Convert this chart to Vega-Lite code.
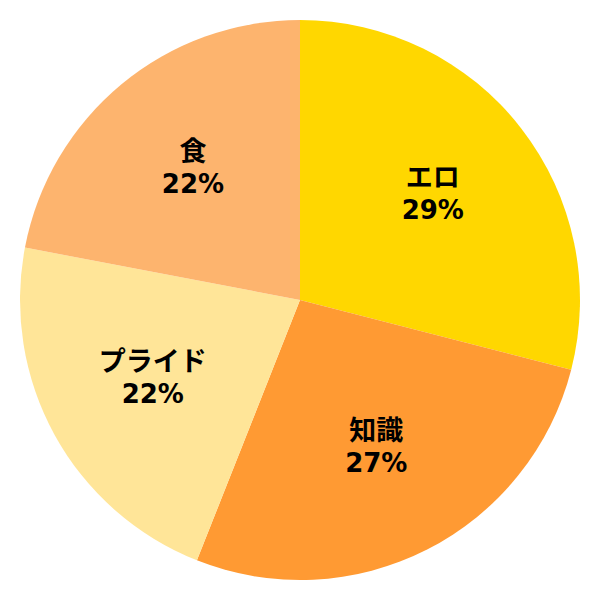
{
  "$schema": "https://vega.github.io/schema/vega-lite/v6.json",
  "width": 600,
  "height": 600,
  "autosize": {"type": "fit", "contains": "padding"},
  "padding": 0,
  "background": "white",
  "view": {"stroke": null},
  "data": {
    "values": [
      {"name": "エロ", "value": 29, "pct": "29%", "idx": 1},
      {"name": "知識", "value": 27, "pct": "27%", "idx": 2},
      {"name": "プライド", "value": 22, "pct": "22%", "idx": 3},
      {"name": "食", "value": 22, "pct": "22%", "idx": 4}
    ]
  },
  "encoding": {
    "theta": {"field": "value", "type": "quantitative", "stack": true},
    "order": {"field": "idx", "type": "quantitative"},
    "color": {
      "field": "name",
      "type": "nominal",
      "legend": null,
      "scale": {
        "domain": ["エロ", "知識", "プライド", "食"],
        "range": ["#FFD700", "#FF9A33", "#FFE598", "#FDB46E"]
      }
    }
  },
  "layer": [
    {"mark": {"type": "arc", "outerRadius": 280}},
    {
      "mark": {"type": "text", "radius": 168, "dy": -18, "fontSize": 27, "fontWeight": "bold", "font": "DejaVu Sans, Noto Sans CJK JP", "fill": "black"},
      "encoding": {"text": {"field": "name"}, "color": {"value": "black"}}
    },
    {
      "mark": {"type": "text", "radius": 168, "dy": 14, "fontSize": 26, "fontWeight": "bold", "font": "DejaVu Sans", "fill": "black"},
      "encoding": {"text": {"field": "pct"}, "color": {"value": "black"}}
    }
  ]
}
